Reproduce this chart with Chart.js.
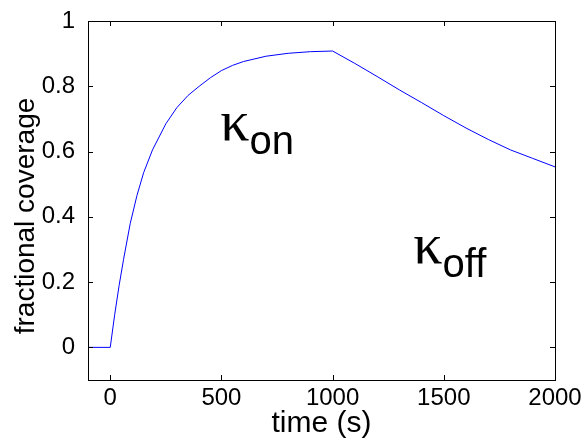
<!DOCTYPE html>
<html>
<head>
<meta charset="utf-8">
<script src="https://cdn.jsdelivr.net/npm/chart.js@4.4.1/dist/chart.umd.min.js"></script>
<style>
  html, body { margin: 0; padding: 0; background: #fff; }
  #wrap { width: 586px; height: 442px; }
</style>
</head>
<body>
<div id="wrap"><canvas id="chart" width="586" height="442"></canvas></div>
<script>
  // values
  const times = [-100, 0, 20, 40, 60, 90, 120, 150, 190, 250, 300, 350, 400, 450, 500, 550, 600, 700, 800, 900, 1000,
    1100, 1200, 1300, 1400, 1500, 1600, 1700, 1800, 1900, 2000];
  const coverage = [0, 0, 0.1, 0.19, 0.27, 0.38, 0.465, 0.535, 0.605, 0.685, 0.735, 0.772, 0.8, 0.826, 0.848, 0.864, 0.876, 0.892, 0.901, 0.906, 0.908,
    0.87, 0.83, 0.789, 0.75, 0.71, 0.672, 0.637, 0.605, 0.579, 0.553];
  const xTicks = [0, 500, 1000, 1500, 2000];
  const yTicks = [0, 0.2, 0.4, 0.6, 0.8, 1];
  const rateLabels = [
    { main: "κ", sub: "on", x: 495, y: 0.635 },
    { main: "κ", sub: "off", x: 1363, y: 0.26 },
  ];

  const points = times.map((t, i) => ({ x: t, y: coverage[i] }));
  const sans = "'Liberation Sans', Arial, sans-serif";

  // matlab style box with inward ticks, y title and the kappa labels
  const boxPlugin = {
    id: "box",
    afterDatasetsDraw(chart) {
      const { ctx, chartArea: a, scales } = chart;
      ctx.save();
      ctx.strokeStyle = "#000";
      ctx.lineWidth = 1;
      ctx.strokeRect(a.left + 0.5, a.top + 0.5, a.right - a.left, a.bottom - a.top);
      ctx.beginPath();
      xTicks.forEach((v) => {
        const px = Math.round(scales.x.getPixelForValue(v)) + 0.5;
        ctx.moveTo(px, a.bottom); ctx.lineTo(px, a.bottom - 5);
        ctx.moveTo(px, a.top); ctx.lineTo(px, a.top + 5);
      });
      yTicks.forEach((v) => {
        const py = Math.round(scales.y.getPixelForValue(v)) + 0.5;
        ctx.moveTo(a.left, py); ctx.lineTo(a.left + 5, py);
        ctx.moveTo(a.right, py); ctx.lineTo(a.right - 5, py);
      });
      ctx.stroke();

      ctx.fillStyle = "#000";
      ctx.save();
      ctx.translate(26, 216);
      ctx.rotate(-Math.PI / 2);
      ctx.font = "28px " + sans;
      ctx.textAlign = "center";
      ctx.textBaseline = "middle";
      ctx.fillText("fractional coverage", 0, 0);
      ctx.restore();

      ctx.textBaseline = "alphabetic";
      rateLabels.forEach((l) => {
        const px = scales.x.getPixelForValue(l.x);
        const py = scales.y.getPixelForValue(l.y);
        ctx.font = "58px 'Liberation Serif'";
        ctx.fillText(l.main, px, py);
        const w = ctx.measureText(l.main).width;
        ctx.font = "40px " + sans;
        ctx.fillText(l.sub, px + w, py + 14);
      });
      ctx.restore();
    },
  };

  new Chart(document.getElementById("chart"), {
    type: "line",
    data: {
      datasets: [{
        data: points,
        borderColor: "#0000ff",
        borderWidth: 1,
        pointRadius: 0,
        tension: 0,
        fill: false,
      }],
    },
    options: {
      responsive: false,
      animation: false,
      layout: { padding: { top: 21, right: 31, left: 0, bottom: 0 } },
      plugins: { legend: { display: false }, tooltip: { enabled: false } },
      scales: {
        x: {
          type: "linear",
          min: -100,
          max: 2000,
          afterBuildTicks: (s) => { s.ticks = xTicks.map((v) => ({ value: v })); },
          afterFit: (s) => { s.height = 62; },
          grid: { display: false },
          border: { display: false },
          ticks: { color: "#000", font: { family: sans, size: 24 }, padding: -4, maxRotation: 0, callback: (v) => String(v) },
          title: { display: true, text: "time (s)", color: "#000", font: { family: sans, size: 30 }, padding: { top: 0, bottom: 0 } },
        },
        y: {
          min: -0.1,
          max: 1,
          afterBuildTicks: (s) => { s.ticks = yTicks.map((v) => ({ value: v })); },
          afterFit: (s) => { s.width = 88; },
          grid: { display: false },
          border: { display: false },
          ticks: { color: "#000", font: { family: sans, size: 24 }, padding: 5, callback: (v) => String(Math.round(v * 10) / 10) },
        },
      },
    },
    plugins: [boxPlugin],
  });
</script>
</body>
</html>
